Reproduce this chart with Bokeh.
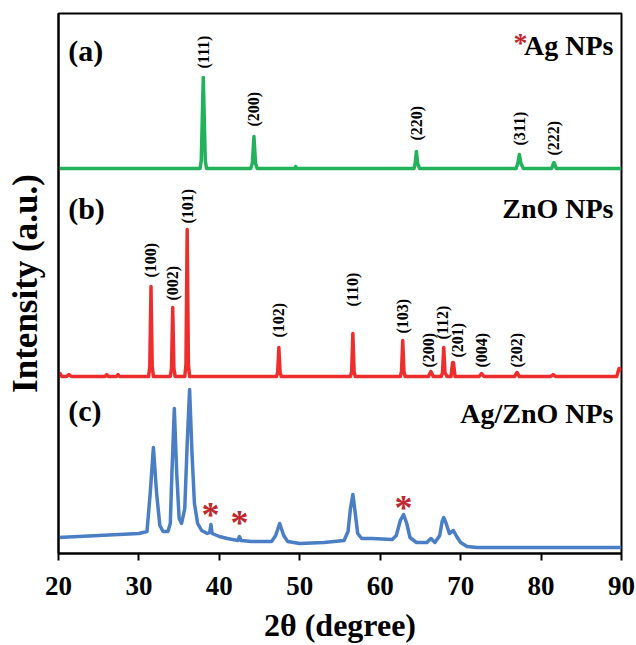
import math
from bokeh.plotting import figure
from bokeh.models import ColumnDataSource, FixedTicker, Label
from bokeh.core.properties import value
from bokeh.embed import file_html
from bokeh.resources import INLINE

# ---------------- data ----------------
# (a) Ag NPs
a_2theta = [20, 37.6, 37.75, 38.0, 38.25, 38.4, 43.9, 44.1, 44.3, 44.5, 44.7,
            49.4, 49.5, 49.6, 64.2, 64.35, 64.5, 64.65, 64.9, 76.9, 77.1, 77.3,
            77.5, 77.8, 81.3, 81.6, 81.9, 90]
a_I = [0, 0, 8, 91, 8, 0, 0, 5, 32, 5, 0,
       0, 2, 0, 0, 5, 17, 5, 0, 0, 5, 14,
       5, 0, 0, 6, 0, 0]
a_hkl = ["(111)", "(200)", "(220)", "(311)", "(222)"]
a_peak = [38.0, 44.3, 64.5, 77.3, 81.6]
a_peak_I = [91, 32, 17, 14, 6]

# (b) ZnO NPs
b_2theta = [20, 20.2, 20.4, 21.0, 21.3, 21.6, 25.8, 26.0, 26.2, 27.2, 27.4, 27.6,
            31.2, 31.35, 31.5, 31.65, 31.8, 33.9, 34.05, 34.2, 34.35, 34.5,
            35.7, 35.85, 36.0, 36.15, 36.3, 47.1, 47.25, 47.4, 47.55, 47.7,
            56.3, 56.45, 56.6, 56.75, 56.9, 62.5, 62.65, 62.8, 62.95, 63.1,
            66.0, 66.3, 66.6, 67.6, 67.75, 67.9, 68.05, 68.3, 68.8, 69.0, 69.1,
            69.3, 72.3, 72.6, 72.9, 76.7, 77.0, 77.3, 81.2, 81.5, 81.8, 89.4,
            89.7, 90]
b_I = [0, 3, 0, 0, 2, 0, 0, 2, 0, 0, 2, 0,
       0, 10, 90, 10, 0, 0, 8, 69, 8, 0,
       0, 12, 147, 12, 0, 0, 4, 29, 4, 0,
       0, 5, 43, 5, 0, 0, 5, 36, 5, 0,
       0, 5, 0, 0, 4, 29, 4, 0, 0, 14, 14,
       0, 0, 3, 0, 0, 4, 0, 0, 2, 0, 0,
       8, 6]
b_hkl = ["(100)", "(002)", "(101)", "(102)", "(110)", "(103)", "(200)",
         "(112)", "(201)", "(004)", "(202)"]
b_peak = [31.5, 34.2, 36.0, 47.4, 56.6, 62.8, 66.3, 67.9, 69.1, 72.6, 77.0]
b_peak_I = [90, 69, 147, 29, 43, 36, 5, 29, 14, 3, 4]

# (c) Ag/ZnO NPs
c_2theta = [20, 25, 30, 31.0, 31.4, 31.8, 32.2, 32.6, 33.0, 33.6, 33.9, 34.1,
            34.4, 34.7, 35.0, 35.3, 35.7, 36.0, 36.3, 36.6, 36.9, 37.3, 37.8,
            38.5, 38.8, 38.95, 39.1, 40.0, 41.0, 42.3, 42.5, 42.7, 44.0, 46.5,
            47.0, 47.5, 48.0, 48.5, 50.0, 53.0, 55.5, 56.0, 56.3, 56.6, 56.9,
            57.2, 57.7, 59.0, 61.5, 62.0, 62.5, 62.9, 63.3, 63.7, 64.5, 65.8,
            66.3, 66.8, 67.4, 67.7, 67.9, 68.2, 68.6, 69.1, 69.5, 70.0, 70.8,
            72.0, 90]
c_I = [16, 18, 20, 22, 60, 106, 60, 28, 22, 22, 30, 80,
       145, 80, 35, 30, 45, 110, 164, 100, 50, 30, 23,
       20, 21, 29, 20, 17, 15, 13, 17, 13, 12, 12,
       18, 30, 18, 12, 10, 11, 13, 22, 45, 59, 40,
       20, 15, 15, 14, 18, 33, 39, 30, 16, 11, 11,
       15, 11, 18, 32, 36, 30, 20, 23, 17, 11, 7,
       6, 6]
c_ag_peak = [38.9, 42.5, 62.9]
c_ag_peak_I = [29, 17, 39]

panel_tags = ["(a)", "(b)", "(c)"]
panel_names = ["Ag NPs", "ZnO NPs", "Ag/ZnO NPs"]
x_ticks = [20, 30, 40, 50, 60, 70, 80, 90]

# ---------------- layout / style ----------------
offsets = [385, 177, 0]
colors = ["#23b25c", "#ee2d2d", "#4a7ec5"]
star_color = "#c1272d"
FONT_NAME = "Liberation Serif"
FONT = value(FONT_NAME)
a_pad = [9, 10, 11, 9, 7]
b_pad = [9, 7, 6, 10, 27, 7, 4, 8, 5, 6, 5]
b_dx = [0, 0, 0, 0, 0, 0, -0.25, -0.1, 0.5, 0, 0]
star_pad = [14, 18, 11]

p = figure(x_range=(20, 90), y_range=(0, 540), frame_width=563, frame_height=540,
           output_backend="svg", toolbar_location=None,
           min_border_left=58, min_border_top=13, min_border_right=14,
           min_border_bottom=90)
p.xgrid.visible = False
p.ygrid.visible = False
p.outline_line_color = "black"
p.outline_line_width = 2
p.background_fill_color = "white"
p.border_fill_color = "white"

for xs, ys, off, col in [(a_2theta, a_I, offsets[0], colors[0]),
                          (b_2theta, b_I, offsets[1], colors[1]),
                          (c_2theta, c_I, offsets[2], colors[2])]:
    p.line(xs, [v + off for v in ys], line_color=col, line_width=3.5,
           line_join="round")

# hkl labels
src_a = ColumnDataSource(dict(x=a_peak, y=[offsets[0] + v + g for v, g in zip(a_peak_I, a_pad)],
                              t=a_hkl))
src_b = ColumnDataSource(dict(x=[x + d for x, d in zip(b_peak, b_dx)],
                              y=[offsets[1] + v + g for v, g in zip(b_peak_I, b_pad)],
                              t=b_hkl))
for src in (src_a, src_b):
    p.text(x="x", y="y", text="t", source=src, angle=math.pi / 2,
           text_align="left", text_baseline="middle", text_font=FONT,
           text_font_style="bold", text_font_size="16px", text_color="black")

# Ag peaks stars in (c)
src_s = ColumnDataSource(dict(x=c_ag_peak,
                              y=[offsets[2] + v + g for v, g in zip(c_ag_peak_I, star_pad)],
                              t=["*"] * len(c_ag_peak)))
p.text(x="x", y="y", text="t", source=src_s, text_align="center",
       text_baseline="middle", text_font=FONT, text_font_style="bold",
       text_font_size="36px", text_color=star_color, y_offset=4)

# panel tags and names
tag_y = [503, 345, 143]
name_y = [508, 345, 140]
for t, yy in zip(panel_tags, tag_y):
    p.add_layout(Label(x=21.2, y=yy, text=t, text_font=FONT_NAME, text_font_style="bold",
                       text_font_size="30px", text_baseline="middle", text_align="left",
                       text_color="black"))
for t, yy in zip(panel_names, name_y):
    p.add_layout(Label(x=89.0, y=yy, text=t, text_font=FONT_NAME, text_font_style="bold",
                       text_font_size="28px", text_baseline="middle", text_align="right",
                       text_color="black"))
p.add_layout(Label(x=78.3, y=name_y[0], text="*", text_font=FONT_NAME, text_font_style="bold",
                   text_font_size="28px", text_baseline="middle", text_align="right",
                   text_color=star_color, y_offset=3))

# axes
xa = p.xaxis[0]
xa.ticker = FixedTicker(ticks=x_ticks)
xa.axis_label = "2θ (degree)"
xa.axis_label_text_font = FONT_NAME
xa.axis_label_text_font_style = "bold"
xa.axis_label_text_font_size = "32px"
xa.axis_label_text_color = "black"
xa.axis_label_standoff = 9
xa.major_label_text_font = FONT_NAME
xa.major_label_text_font_style = "bold"
xa.major_label_text_font_size = "27px"
xa.major_label_text_color = "black"
xa.major_label_standoff = 16
xa.major_tick_out = 7
xa.major_tick_in = 0
xa.major_tick_line_width = 2
xa.major_tick_line_color = "black"
xa.minor_tick_line_color = None
xa.axis_line_width = 2
xa.axis_line_color = "black"

ya = p.yaxis[0]
ya.ticker = FixedTicker(ticks=[])
ya.axis_label = "Intensity (a.u.)"
ya.axis_label_text_font = FONT_NAME
ya.axis_label_text_font_style = "bold"
ya.axis_label_text_font_size = "35px"
ya.axis_label_text_color = "black"
ya.axis_label_standoff = 14
ya.major_tick_line_color = None
ya.minor_tick_line_color = None
ya.major_label_text_font_size = "0px"
ya.axis_line_width = 2
ya.axis_line_color = "black"

open("out.html", "w").write(file_html(p, INLINE))
